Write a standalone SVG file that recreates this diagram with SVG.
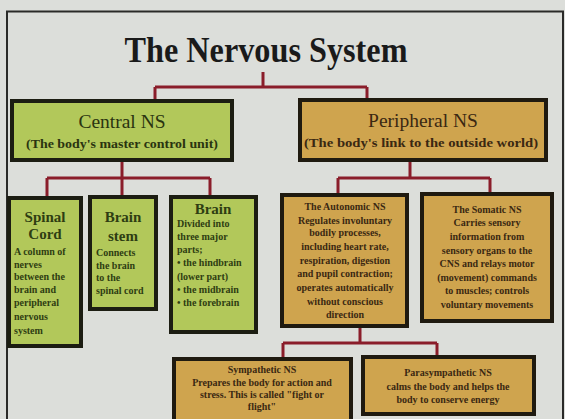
<svg xmlns="http://www.w3.org/2000/svg" width="565" height="419" viewBox="0 0 565 419">
<style>
.bg{fill:#dcdeda}
.frame{fill:none;stroke:#2a2a28;stroke-width:2}
.conn{fill:none;stroke:#8a1d2a;stroke-width:3}
.g{fill:#b2c85a;stroke:#1c1d12;stroke-width:4}
.o{fill:#cfa44e;stroke:#1f1a10;stroke-width:4}
text{font-family:"Liberation Serif","Times New Roman",serif;text-anchor:middle}
.title{font-size:35px;font-weight:bold;fill:#1a1a1a}
.h{font-size:19.5px;fill:#2a3410}
.ho{font-size:19.5px;fill:#3a2812}
.sub{font-size:12.5px;font-weight:bold;fill:#2a3410}
.subo{font-size:12.5px;font-weight:bold;fill:#3a2812}
.gh{font-size:15px;font-weight:bold;fill:#2e3d12}
.gt{font-size:10px;font-weight:bold;fill:#2e3d12;text-anchor:start}
.ot{font-size:10px;font-weight:bold;fill:#3a2812}
</style>
<rect class="bg" x="0" y="0" width="565" height="419"/>
<path class="frame" d="M7,419 V11.5 H563 V419"/>
<text class="title" x="266" y="62" textLength="283" lengthAdjust="spacingAndGlyphs">The Nervous System</text>
<g id="connectors">
<path class="conn" d="M263,72 V87 M155,87 H367 M155,87 V100 M367,87 V99"/>
<path class="conn" d="M122,160 V178 M47,178 H210 M47,178 V197 M122,178 V196 M210,178 V196"/>
<path class="conn" d="M410,160 V178 M338,178 H490 M338,178 V194 M490,178 V193"/>
<path class="conn" d="M360,327 V343 M283,343 H437 M283,343 V358 M437,343 V356"/>
</g>
<g id="central">
<rect class="g" x="12" y="101" width="220" height="59"/>
<text class="h" x="122" y="128">Central NS</text>
<text class="sub" x="122" y="148" textLength="192" lengthAdjust="spacingAndGlyphs">(The body's master control unit)</text>
</g>
<g id="peripheral">
<rect class="o" x="300" y="100" width="246" height="60"/>
<text class="ho" x="423" y="127">Peripheral NS</text>
<text class="subo" x="421" y="147" textLength="234" lengthAdjust="spacingAndGlyphs">(The body's link to the outside world)</text>
</g>
<g id="spinal">
<rect class="g" x="9" y="198" width="72" height="148"/>
<text class="gh" x="45" y="222">Spinal</text>
<text class="gh" x="45" y="239">Cord</text>
<text class="gt" x="14" y="255">A column of</text>
<text class="gt" x="14" y="268">nerves</text>
<text class="gt" x="14" y="280">between the</text>
<text class="gt" x="14" y="293">brain and</text>
<text class="gt" x="14" y="306">peripheral</text>
<text class="gt" x="14" y="320">nervous</text>
<text class="gt" x="14" y="334">system</text>
</g>
<g id="brainstem">
<rect class="g" x="90" y="197" width="66" height="112"/>
<text class="gh" x="123" y="222">Brain</text>
<text class="gh" x="123" y="241">stem</text>
<text class="gt" x="96" y="256">Connects</text>
<text class="gt" x="96" y="269">the brain</text>
<text class="gt" x="96" y="281">to the</text>
<text class="gt" x="96" y="294">spinal cord</text>
</g>
<g id="brain">
<rect class="g" x="171" y="197" width="85" height="135"/>
<text class="gh" x="213" y="214">Brain</text>
<text class="gt" x="177" y="227">Divided into</text>
<text class="gt" x="177" y="240">three major</text>
<text class="gt" x="177" y="253">parts;</text>
<text class="gt" x="177" y="266">• the hindbrain</text>
<text class="gt" x="177" y="280">(lower part)</text>
<text class="gt" x="177" y="293">• the midbrain</text>
<text class="gt" x="177" y="306">• the forebrain</text>
</g>
<g id="autonomic">
<rect class="o" x="282" y="195" width="125" height="131"/>
<text class="ot" x="345" y="210">The Autonomic NS</text>
<text class="ot" x="345" y="224">Regulates involuntary</text>
<text class="ot" x="345" y="236">bodily processes,</text>
<text class="ot" x="345" y="250">including heart rate,</text>
<text class="ot" x="345" y="264">respiration, digestion</text>
<text class="ot" x="345" y="277">and pupil contraction;</text>
<text class="ot" x="345" y="291">operates automatically</text>
<text class="ot" x="345" y="305">without conscious</text>
<text class="ot" x="345" y="318">direction</text>
</g>
<g id="somatic">
<rect class="o" x="422" y="194" width="130" height="127"/>
<text class="ot" x="487" y="213">The Somatic NS</text>
<text class="ot" x="487" y="226">Carries sensory</text>
<text class="ot" x="487" y="240">information from</text>
<text class="ot" x="487" y="254">sensory organs to the</text>
<text class="ot" x="487" y="267">CNS and relays motor</text>
<text class="ot" x="487" y="281">(movement) commands</text>
<text class="ot" x="487" y="294">to muscles; controls</text>
<text class="ot" x="487" y="308">voluntary movements</text>
</g>
<g id="sympathetic">
<rect class="o" x="174" y="359" width="177" height="70"/>
<text class="ot" x="262" y="373">Sympathetic NS</text>
<text class="ot" x="262" y="386">Prepares the body for action and</text>
<text class="ot" x="262" y="398">stress. This is called "fight or</text>
<text class="ot" x="262" y="410">flight"</text>
</g>
<g id="parasympathetic">
<rect class="o" x="363" y="357" width="171" height="57"/>
<text class="ot" x="448" y="376">Parasympathetic NS</text>
<text class="ot" x="448" y="390">calms the body and helps the</text>
<text class="ot" x="448" y="403">body to conserve energy</text>
</g>
</svg>
